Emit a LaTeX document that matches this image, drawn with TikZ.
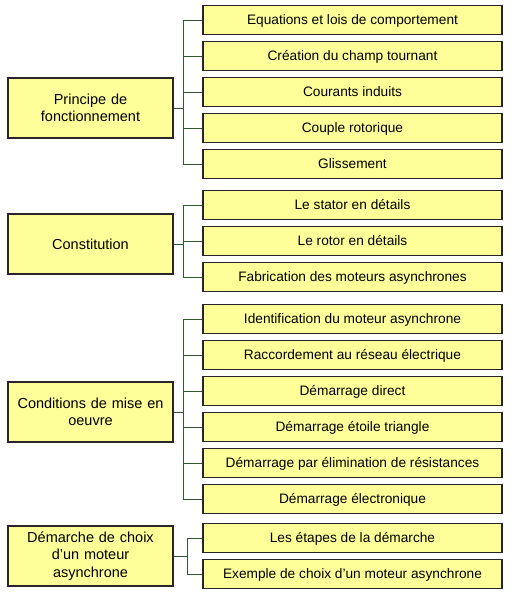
\documentclass[tikz,border=0pt]{standalone}
\usepackage{fontspec}
\setmainfont{Liberation Sans}
\begin{document}
\begin{tikzpicture}[x=1pt,y=-1pt,
  box/.style={draw=black!85,line width=1.1pt,fill=boxfill,inner sep=0pt,align=center},
  leaf/.style={box,minimum width=299pt,minimum height=29pt,text height=9.8pt,text depth=0pt,font=\fontsize{13.7}{17}\selectfont},
  main/.style={box,minimum width=165pt,minimum height=60pt,text width=160pt,font=\fontsize{14.5}{17.5}\selectfont},
  conn/.style={draw=linkgreen,line width=1pt}]
\definecolor{boxfill}{HTML}{FFFF99}
\definecolor{linkgreen}{HTML}{2E5A2E}
\useasboundingbox (0,0) rectangle (511,598);
% group 1
\node[main] (m1) at (90.5,108) {Principe de\\fonctionnement};
\node[leaf] (a1) at (352.5,20) {Equations et lois de comportement};
\node[leaf] (a2) at (352.5,56) {Création du champ tournant};
\node[leaf] (a3) at (352.5,92) {Courants induits};
\node[leaf] (a4) at (352.5,128) {Couple rotorique};
\node[leaf] (a5) at (352.5,164) {Glissement};
\coordinate (b1) at (183,108);
\draw[conn] (m1.east) -- (b1);
\foreach \n in {a1,a2,a3,a4,a5} \draw[conn] (b1) |- (\n.west);
% group 2
\node[main] (m2) at (90.5,244) {Constitution};
\node[leaf] (c1) at (352.5,205) {Le stator en détails};
\node[leaf] (c2) at (352.5,241) {Le rotor en détails};
\node[leaf] (c3) at (352.5,277) {Fabrication des moteurs asynchrones};
\coordinate (b2) at (183,244);
\draw[conn] (m2.east) -- (b2);
\foreach \n in {c1,c2,c3} \draw[conn] (b2) |- (\n.west);
% group 3
\node[main] (m3) at (90.5,412) {Conditions de mise en\\oeuvre};
\node[leaf] (d1) at (352.5,319) {Identification du moteur asynchrone};
\node[leaf] (d2) at (352.5,355) {Raccordement au réseau électrique};
\node[leaf] (d3) at (352.5,391) {Démarrage direct};
\node[leaf] (d4) at (352.5,427) {Démarrage étoile triangle};
\node[leaf] (d5) at (352.5,463) {Démarrage par élimination de résistances};
\node[leaf] (d6) at (352.5,499) {Démarrage électronique};
\coordinate (b3) at (183,412);
\draw[conn] (m3.east) -- (b3);
\foreach \n in {d1,d2,d3,d4,d5,d6} \draw[conn] (b3) |- (\n.west);
% group 4
\node[main] (m4) at (90.5,556) {Démarche de choix\\d’un moteur\\asynchrone};
\node[leaf] (e1) at (352.5,538) {Les étapes de la démarche};
\node[leaf] (e2) at (352.5,574) {Exemple de choix d’un moteur asynchrone};
\coordinate (b4) at (187,556);
\draw[conn] (m4.east) -- (b4);
\foreach \n in {e1,e2} \draw[conn] (b4) |- (\n.west);
\end{tikzpicture}
\end{document}
